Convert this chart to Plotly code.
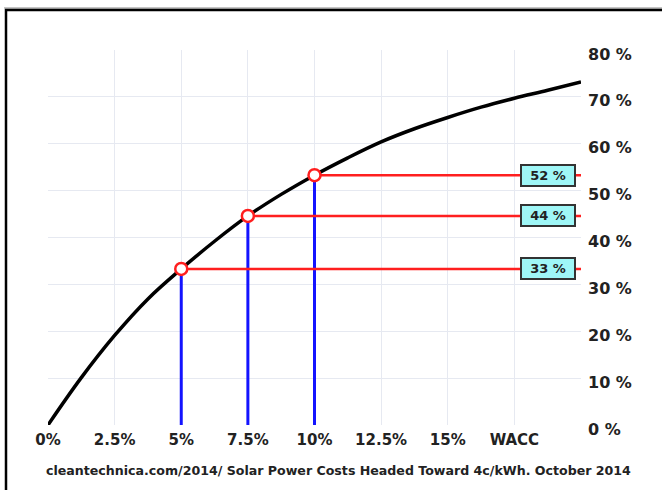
import plotly.graph_objects as go

# ---- data ----
wacc_pct = [0, 1.25, 2.5, 3.75, 5, 6.25, 7.5, 8.75, 10, 11.25, 12.5, 13.75, 15, 16.25, 17.5, 18.75, 20]
share_pct = [0, 10.1, 19.1, 26.9, 33.3, 39.2, 44.6, 49.2, 53.3, 57.0, 60.4, 63.2, 65.6, 67.8, 69.7, 71.4, 73.2]

marker_wacc = [5, 7.5, 10]
marker_share = [33.3, 44.6, 53.3]
marker_labels = ["33 %", "44 %", "52 %"]

x_tickvals = [0, 2.5, 5, 7.5, 10, 12.5, 15, 17.5, 20]
x_ticktext = ["0%", "2.5%", "5%", "7.5%", "10%", "12.5%", "15%", "WACC", ""]
y_tickvals = [0, 10, 20, 30, 40, 50, 60, 70, 80]
y_ticktext = ["0 %", "10 %", "20 %", "30 %", "40 %", "50 %", "60 %", "70 %", "80 %"]

caption = "cleantechnica.com/2014/ Solar Power Costs Headed Toward 4c/kWh. October 2014"

X_MAX = 20
Y_MAX = 80
FONT = "DejaVu Sans, Liberation Sans, Arial"

W, H = 662, 490
L, T = 48, 50
PW, PH = 533, 375
R, B = W - L - PW, H - T - PH

px = lambda v: (v - L) / PW
py = lambda v: (T + PH - v) / PH

fig = go.Figure()

# blue verticals
for xv, yv in zip(marker_wacc, marker_share):
    fig.add_trace(go.Scatter(x=[xv, xv], y=[0, yv], mode="lines",
                             line=dict(color="#1414ff", width=3), hoverinfo="skip"))
# red horizontals
for xv, yv in zip(marker_wacc, marker_share):
    fig.add_trace(go.Scatter(x=[xv, X_MAX], y=[yv, yv], mode="lines",
                             line=dict(color="#ff1f1f", width=2.5), hoverinfo="skip"))

# curve
fig.add_trace(go.Scatter(x=wacc_pct, y=share_pct, mode="lines",
                         line=dict(color="black", width=3.5, shape="spline", smoothing=1.0),
                         hoverinfo="skip"))

# circles
fig.add_trace(go.Scatter(x=marker_wacc, y=marker_share, mode="markers",
                         marker=dict(symbol="circle", size=12, color="white",
                                     line=dict(color="#ff1f1f", width=2.5)),
                         hoverinfo="skip"))

# label boxes
for yv, lab in zip(marker_share, marker_labels):
    fig.add_annotation(x=18.75, y=yv, xref="x", yref="y", text=lab, showarrow=False,
                       font=dict(family=FONT, size=13, color="#222", weight="bold"),
                       bgcolor="#9ff7f7", bordercolor="#333", borderwidth=2,
                       borderpad=2, width=48, height=15, xanchor="center", yanchor="middle")

# caption
fig.add_annotation(x=px(338), y=py(470), xref="paper", yref="paper",
                   text=caption, showarrow=False, xanchor="center", yanchor="middle",
                   font=dict(family=FONT, size=12.6, color="#222", weight="bold"))

# outer frame
fig.add_shape(type="line", xref="paper", yref="paper", x0=px(4), x1=px(720), y0=py(8), y1=py(8),
              line=dict(color="#888", width=1))
fig.add_shape(type="line", xref="paper", yref="paper", x0=px(5), x1=px(720), y0=py(10), y1=py(10),
              line=dict(color="black", width=2.5))
fig.add_shape(type="line", xref="paper", yref="paper", x0=px(6), x1=px(6), y0=py(9), y1=py(540),
              line=dict(color="black", width=2.5))

fig.update_layout(
    width=W, height=H,
    margin=dict(l=L, r=R, t=T, b=B),
    paper_bgcolor="white", plot_bgcolor="white",
    showlegend=False,
    xaxis=dict(range=[0, X_MAX], tickvals=x_tickvals, ticktext=x_ticktext,
               showgrid=True, gridcolor="#e6e9f1", gridwidth=1, zeroline=False,
               showline=False, ticks="", ticklabelstandoff=4,
               tickfont=dict(family=FONT, size=15, color="#222", weight="bold")),
    yaxis=dict(range=[0, Y_MAX], tickvals=y_tickvals, ticktext=y_ticktext, side="right",
               showgrid=True, gridcolor="#e6e9f1", gridwidth=1, zeroline=False,
               showline=False, ticks="", ticklabelstandoff=6, ticklabelshift=4,
               tickfont=dict(family=FONT, size=16, color="#222", weight="bold")),
)

fig.write_html("out.html", config={"displayModeBar": False},
               post_script="document.body.style.margin='0';document.body.style.overflow='hidden';")
